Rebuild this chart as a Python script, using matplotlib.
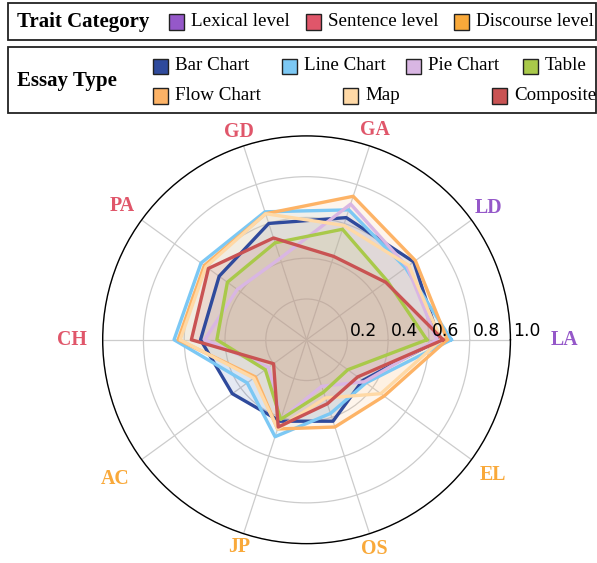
import numpy as np
import matplotlib.pyplot as plt
from matplotlib.patches import Rectangle

# axes of the radar, counter-clockwise from the right
traits = ["LA", "LD", "GA", "GD", "PA", "CH", "AC", "JP", "OS", "EL"]
trait_group = ["Lexical level", "Lexical level",
               "Sentence level", "Sentence level", "Sentence level", "Sentence level",
               "Discourse level", "Discourse level", "Discourse level", "Discourse level"]
group_names = ["Lexical level", "Sentence level", "Discourse level"]
group_colors = ["#9558C9", "#E0566A", "#F9A93A"]

essay_types = ["Bar Chart", "Line Chart", "Pie Chart", "Table", "Flow Chart", "Map", "Composite"]
essay_colors = ["#2F4A9C", "#7CC8F4", "#D9B6E3", "#A9C94A", "#FDB366", "#FFD9A6", "#C95353"]

bar_chart = [0.65, 0.65, 0.63, 0.60, 0.53, 0.52, 0.45, 0.42, 0.42, 0.34]
line_chart = [0.71, 0.60, 0.67, 0.66, 0.64, 0.65, 0.36, 0.50, 0.38, 0.36]
pie_chart = [0.64, 0.61, 0.70, 0.42, 0.42, 0.50, 0.23, 0.41, 0.24, 0.35]
table = [0.59, 0.49, 0.57, 0.50, 0.48, 0.44, 0.25, 0.41, 0.27, 0.25]
flow_chart = [0.69, 0.66, 0.74, 0.65, 0.62, 0.63, 0.31, 0.46, 0.45, 0.47]
map_ = [0.66, 0.62, 0.59, 0.65, 0.61, 0.62, 0.32, 0.46, 0.30, 0.45]
composite = [0.67, 0.48, 0.43, 0.525, 0.595, 0.565, 0.20, 0.45, 0.33, 0.31]
series = [bar_chart, line_chart, pie_chart, table, flow_chart, map_, composite]

rticks = [0.2, 0.4, 0.6, 0.8, 1.0]

W, H = 597, 563
fig = plt.figure(figsize=(W / 100, H / 100), dpi=100)
serif = "Liberation Serif"

def fx(x):
    return x / W

def fy(y):
    return 1 - y / H

ax = fig.add_axes([0.172, 0.034, 0.683, 0.725], projection="polar")
angles = np.arange(len(traits)) * 2 * np.pi / len(traits)
closed = np.concatenate([angles, angles[:1]])

for vals, col in zip(series, essay_colors):
    v = np.concatenate([vals, vals[:1]])
    ax.fill(closed, v, color=col, alpha=0.12, zorder=2)
    ax.plot(closed, v, color=col, lw=2.4, zorder=3)

ax.set_ylim(0, 1)
ax.set_yticks(rticks)
ax.set_yticklabels([])
ax.set_xticks(angles)
ax.set_xticklabels([])
ax.grid(color="#cccccc", lw=0.9)
ax.spines["polar"].set_color("black")
ax.spines["polar"].set_linewidth(1.0)

for r in rticks:
    ax.annotate(f"{r:.1f}", (0, r), xytext=(2, 0), textcoords="offset points",
                ha="left", va="bottom", fontsize=12.3, zorder=6)

label_r = [1.265, 1.10, 1.08, 1.07, 1.12, 1.15, 1.16, 1.07, 1.08, 1.13]
for a, t, g, r in zip(angles, traits, trait_group, label_r):
    ax.text(a, r, t, ha="center", va="center", family=serif, fontweight="bold",
            fontsize=14.3, color=group_colors[group_names.index(g)], clip_on=False)

# legend boxes
fig.patches.append(Rectangle((fx(8), fy(40)), fx(588), 37 / H, transform=fig.transFigure,
                             fill=False, ec="#222222", lw=1.3))
fig.patches.append(Rectangle((fx(8), fy(113)), fx(588), 66 / H, transform=fig.transFigure,
                             fill=False, ec="#222222", lw=1.3))

def item(x, y, col, label):
    fig.patches.append(Rectangle((fx(x), fy(y + 7.5)), 15 / W, 15 / H, transform=fig.transFigure,
                                 fc=col, ec="#222222", lw=1.0))
    fig.text(fx(x + 22), fy(y), label, family=serif, fontsize=13.7, va="center", ha="left")

fig.text(fx(17), fy(22), "Trait Category", family=serif, fontweight="bold", fontsize=15, va="center")
for x, name, col in zip([169, 306, 454], group_names, group_colors):
    item(x, 22, col, name)

fig.text(fx(17), fy(81), "Essay Type", family=serif, fontweight="bold", fontsize=15, va="center")
xs = [153, 282, 406, 523, 153, 343, 492]
ys = [66, 66, 66, 66, 96, 96, 96]
for x, y, name, col in zip(xs, ys, essay_types, essay_colors):
    item(x, y, col, name)

fig.savefig("out.png", dpi=100)
